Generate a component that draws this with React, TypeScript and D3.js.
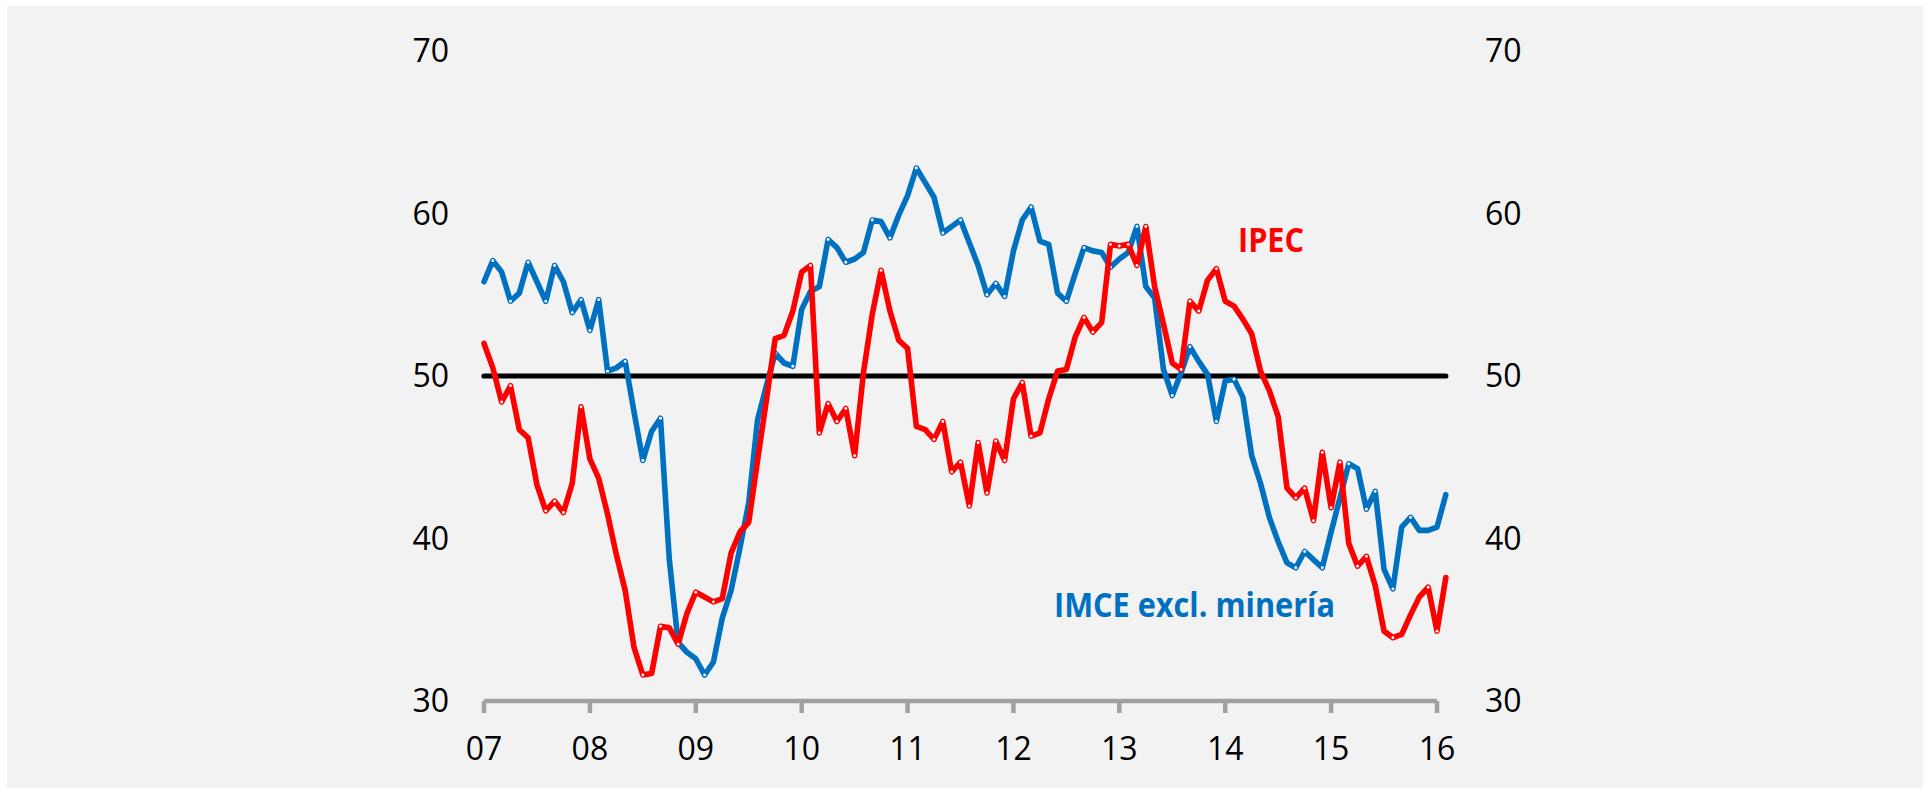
import React from "react";
import * as d3 from "d3";

const yearLabels = ["07", "08", "09", "10", "11", "12", "13", "14", "15", "16"];
const yTicks = [30, 40, 50, 60, 70];

// IMCE excl. minería, monthly Jan 2007 - Feb 2016
const imce = [
  55.8, 57.1, 56.4, 54.6, 55.1, 57.0, 55.8, 54.6, 56.8, 55.8, 53.9, 54.7,
  52.8, 54.7, 50.3, 50.5, 50.9, 47.8, 44.8, 46.6, 47.4, 38.7, 33.6, 33.0,
  32.6, 31.6, 32.4, 35.1, 36.8, 39.4, 42.2, 47.3, 49.4, 51.4, 50.8, 50.6,
  54.1, 55.2, 55.5, 58.4, 57.9, 57.0, 57.2, 57.6, 59.6, 59.5, 58.5, 59.9,
  61.1, 62.8, 61.9, 61.0, 58.8, 59.2, 59.6, 58.2, 56.8, 55.0, 55.7, 54.9,
  57.7, 59.6, 60.4, 58.3, 58.1, 55.1, 54.6, 56.3, 57.9, 57.7, 57.6, 56.7,
  57.2, 57.6, 59.2, 55.5, 54.8, 50.4, 48.8, 50.2, 51.8, 50.9, 50.1, 47.2,
  49.7, 49.8, 48.7, 45.1, 43.4, 41.3, 39.8, 38.5, 38.2, 39.2, 38.7, 38.2,
  40.4, 42.5, 44.6, 44.3, 41.8, 42.9, 38.1, 36.9, 40.7, 41.3, 40.5, 40.5,
  40.7, 42.7,
];

// IPEC, monthly Jan 2007 - Feb 2016
const ipec = [
  52.0, 50.5, 48.4, 49.4, 46.7, 46.2, 43.3, 41.7, 42.3, 41.6, 43.4, 48.1,
  44.9, 43.7, 41.5, 39.0, 36.8, 33.3, 31.6, 31.7, 34.6, 34.5, 33.5, 35.4,
  36.7, 36.4, 36.1, 36.3, 39.1, 40.4, 41.0, 44.8, 48.5, 52.3, 52.5, 54.0,
  56.4, 56.8, 46.5, 48.3, 47.2, 48.0, 45.1, 50.2, 53.8, 56.5, 54.0, 52.2,
  51.7, 46.9, 46.7, 46.1, 47.2, 44.1, 44.7, 42.0, 45.9, 42.8, 46.0, 44.8,
  48.6, 49.6, 46.3, 46.5, 48.6, 50.3, 50.4, 52.4, 53.6, 52.7, 53.3, 58.1,
  58.0, 58.1, 56.8, 59.2, 55.5, 53.2, 50.8, 50.4, 54.6, 54.0, 55.9, 56.6,
  54.6, 54.3, 53.5, 52.6, 50.3, 49.1, 47.5, 43.1, 42.5, 43.1, 41.1, 45.3,
  41.9, 44.7, 39.7, 38.3, 38.9, 37.1, 34.3, 33.9, 34.1, 35.3, 36.4, 37.0,
  34.3, 37.6,
];

const W = 1930;
const H = 788;
const FONT = "'Open Sans', 'DejaVu Sans', sans-serif";

export default function App() {
  const x = d3.scaleLinear().domain([0, 108]).range([484, 1437]);
  const y = d3.scaleLinear().domain([30, 70]).range([701, 51]);

  const line = d3
    .line<number>()
    .x((_, i) => x(i))
    .y((d) => y(d));

  const extremes = (arr: number[]) =>
    arr
      .map((v, i) => ({ v, i }))
      .filter(({ v, i }) => {
        if (i === 0 || i === arr.length - 1) return false;
        const a = arr[i - 1];
        const b = arr[i + 1];
        return (v > a && v > b) || (v < a && v < b);
      });

  const axisY = y(30);

  return (
    <svg
      width={W}
      height={H}
      style={{ position: "absolute", left: 0, top: 0, display: "block" }}
    >
      <rect x={0} y={0} width={W} height={H} fill="#ffffff" />
      <rect x={7} y={6} width={1916} height={H - 6} fill="#f2f2f2" />

      {/* y tick labels left & right */}
      {yTicks.map((t) => (
        <g key={t}>
          <text
            x={449}
            y={y(t) + 11.4}
            textAnchor="end"
            fontFamily={FONT}
            fontSize={32}
            fill="#000"
          >
            {t}
          </text>
          <text
            x={1485}
            y={y(t) + 11.4}
            textAnchor="start"
            fontFamily={FONT}
            fontSize={32}
            fill="#000"
          >
            {t}
          </text>
        </g>
      ))}

      {/* x axis */}
      <line
        x1={x(0)}
        x2={x(108)}
        y1={axisY}
        y2={axisY}
        stroke="#a0a0a0"
        strokeWidth={4.5}
      />
      {yearLabels.map((lab, k) => (
        <g key={lab}>
          <line
            x1={x(k * 12)}
            x2={x(k * 12)}
            y1={axisY}
            y2={axisY + 12}
            stroke="#a0a0a0"
            strokeWidth={4.5}
          />
          <text
            x={x(k * 12)}
            y={759.5}
            textAnchor="middle"
            fontFamily={FONT}
            fontSize={32}
            fill="#000"
          >
            {lab}
          </text>
        </g>
      ))}

      {/* 50 reference line */}
      <line
        x1={x(0)}
        x2={x(109)}
        y1={y(50)}
        y2={y(50)}
        stroke="#000"
        strokeWidth={5.2}
        strokeLinecap="round"
      />

      {/* series */}
      <path
        d={line(imce) || ""}
        fill="none"
        stroke="#0070c0"
        strokeWidth={5.6}
        strokeLinejoin="round"
        strokeLinecap="round"
      />
      {extremes(imce).map(({ v, i }) => (
        <circle key={"b" + i} cx={x(i)} cy={y(v)} r={1.4} fill="#ffffff" />
      ))}
      <path
        d={line(ipec) || ""}
        fill="none"
        stroke="#ff0000"
        strokeWidth={5.6}
        strokeLinejoin="round"
        strokeLinecap="round"
      />
      {extremes(ipec).map(({ v, i }) => (
        <circle key={"r" + i} cx={x(i)} cy={y(v)} r={1.4} fill="#ffffff" />
      ))}

      {/* labels */}
      <text
        x={1238}
        y={251.5}
        fontFamily={FONT}
        fontWeight="bold"
        fontSize={34}
        fill="#ff0000"
        textLength={66}
        lengthAdjust="spacingAndGlyphs"
      >
        IPEC
      </text>
      <text
        x={1054}
        y={616.5}
        fontFamily={FONT}
        fontWeight="bold"
        fontSize={34}
        fill="#0070c0"
        textLength={281}
        lengthAdjust="spacingAndGlyphs"
      >
        IMCE excl. minería
      </text>
    </svg>
  );
}
